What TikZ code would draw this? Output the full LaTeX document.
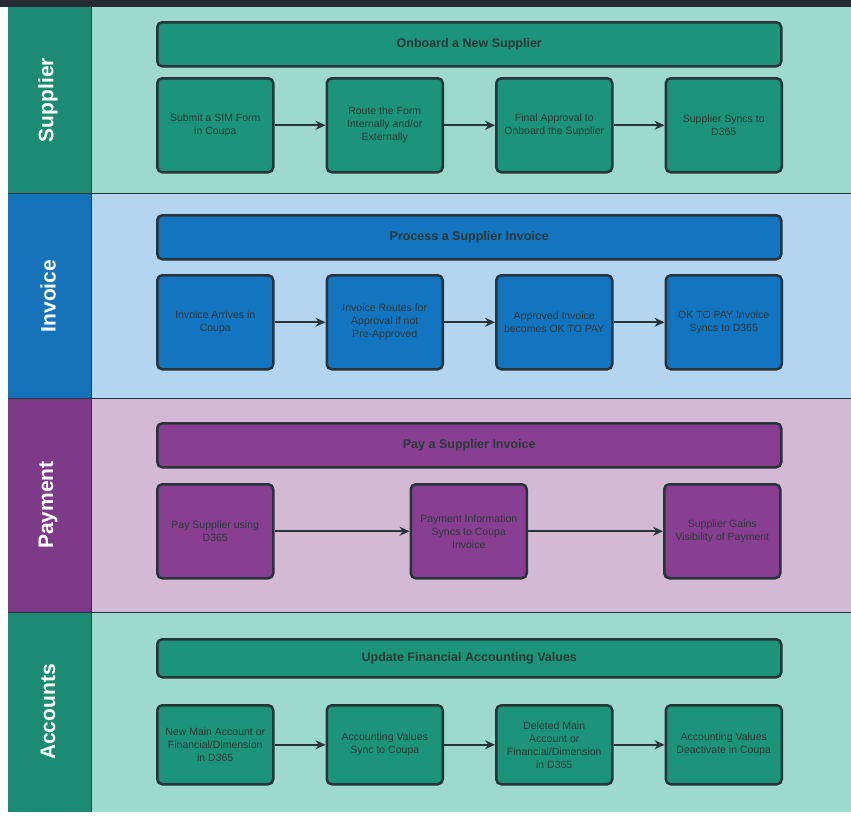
\documentclass[tikz,border=0pt]{standalone}
\usepackage{fontspec}
\setmainfont{Liberation Sans}
\usepackage{xcolor}
\usetikzlibrary{arrows.meta,positioning}

\definecolor{topbar}{HTML}{262B33}
\definecolor{edgegray}{HTML}{27343A}
\definecolor{inktext}{HTML}{2A3838}
\definecolor{tealbg}{HTML}{9ED9CD}
\definecolor{tealdark}{HTML}{1B8C73}
\definecolor{tealbox}{HTML}{1C9479}
\definecolor{bluebg}{HTML}{B3D5EF}
\definecolor{bluedark}{HTML}{1673BA}
\definecolor{bluebox}{HTML}{1375C0}
\definecolor{purplebg}{HTML}{D3B9D3}
\definecolor{purpledark}{HTML}{7D3A88}
\definecolor{purplebox}{HTML}{883F92}

\begin{document}
\begin{tikzpicture}[x=1pt, y=-1pt, node distance=51pt,
    stepbox/.style={rectangle, draw=edgegray, line width=2.5pt, rounded corners=5pt, minimum width=116pt, minimum height=94pt, align=center, text=inktext, inner sep=2pt, font=\fontsize{10.5}{13}\selectfont},
    headbox/.style={rectangle, draw=edgegray, line width=2.5pt, rounded corners=5pt, minimum width=624pt, minimum height=44pt, text=inktext, font=\bfseries\fontsize{12.5}{15}\selectfont},
    lanelabel/.style={rotate=90, text=white, font=\bfseries\fontsize{21}{24}\selectfont},
    arrow/.style={-{Stealth[length=10pt,width=9pt]}, line width=2pt, draw=edgegray}]
    \useasboundingbox (0,0) rectangle (851,815);

    % lanes
    \fill[topbar] (0,0) rectangle (851,7);
    \fill[tealbg] (8,7) rectangle (851,193);
    \fill[bluebg] (8,193) rectangle (851,398);
    \fill[purplebg] (8,398) rectangle (851,612);
    \fill[tealbg] (8,612) rectangle (851,812);
    \fill[tealdark] (8,7) rectangle (91,193);
    \fill[bluedark] (8,193) rectangle (91,398);
    \fill[purpledark] (8,398) rectangle (91,612);
    \fill[tealdark] (8,612) rectangle (91,812);
    \draw[edgegray, line width=1pt] (91,7) -- (91,812);
    \foreach \y in {193,398,612}
        \draw[edgegray, line width=1pt] (8,\y) -- (851,\y);

    \node[lanelabel] (supplier) at (48,100) {Supplier};
    \node[lanelabel] (invoice) at (48,296) {Invoice};
    \node[lanelabel] (payment) at (48,505) {Payment};
    \node[lanelabel] (accounts) at (48,712) {Accounts};

    % Supplier
    \node[headbox, fill=tealbox, anchor=north west] (onboard) at (156,21) {Onboard a New Supplier};
    \node[stepbox, fill=tealbox, anchor=north west] (simform) at (156,77) {Submit a SIM Form\\in Coupa};
    \node[stepbox, fill=tealbox, right=of simform] (route) {Route the Form\\Internally and/or\\Externally};
    \node[stepbox, fill=tealbox, right=of route] (final) {Final Approval to\\Onboard the Supplier};
    \node[stepbox, fill=tealbox, right=of final] (supsync) {Supplier Syncs to\\D365};

    \draw[arrow] (simform) -- (route);
    \draw[arrow] (route) -- (final);
    \draw[arrow] (final) -- (supsync);

    % Invoice
    \node[headbox, fill=bluebox, anchor=north west] (process) at (156,214) {Process a Supplier Invoice};
    \node[stepbox, fill=bluebox, anchor=north west] (arrives) at (156,274) {Invoice Arrives in\\Coupa};
    \node[stepbox, fill=bluebox, right=of arrives] (routes) {Invoice Routes for\\Approval if not\\Pre-Approved};
    \node[stepbox, fill=bluebox, right=of routes] (okpay) {Approved Invoice\\becomes OK TO PAY};
    \node[stepbox, fill=bluebox, right=of okpay] (invsync) {OK TO PAY Invoice\\Syncs to D365};

    \draw[arrow] (arrives) -- (routes);
    \draw[arrow] (routes) -- (okpay);
    \draw[arrow] (okpay) -- (invsync);

    % Payment
    \node[headbox, fill=purplebox, anchor=north west] (pay) at (156,422) {Pay a Supplier Invoice};
    \node[stepbox, fill=purplebox, anchor=north west] (paysup) at (156,483) {Pay Supplier using\\D365};
    \node[stepbox, fill=purplebox, right=135pt of paysup] (payinfo) {Payment Information\\Syncs to Coupa\\Invoice};
    \node[stepbox, fill=purplebox, right=135pt of payinfo] (visible) {Supplier Gains\\Visibility of Payment};

    \draw[arrow] (paysup) -- (payinfo);
    \draw[arrow] (payinfo) -- (visible);

    % Accounts
    \node[headbox, fill=tealbox, minimum height=38pt, anchor=north west] (update) at (156,638) {Update Financial Accounting Values};
    \node[stepbox, fill=tealbox, minimum height=79pt, anchor=north west] (newacct) at (156,704) {New Main Account or\\Financial/Dimension\\in D365};
    \node[stepbox, fill=tealbox, minimum height=79pt, right=of newacct] (valsync) {Accounting Values\\Sync to Coupa};
    \node[stepbox, fill=tealbox, minimum height=79pt, right=of valsync] (deleted) {Deleted Main\\Account or\\Financial/Dimension\\in D365};
    \node[stepbox, fill=tealbox, minimum height=79pt, right=of deleted] (deact) {Accounting Values\\Deactivate in Coupa};

    \draw[arrow] (newacct) -- (valsync);
    \draw[arrow] (valsync) -- (deleted);
    \draw[arrow] (deleted) -- (deact);
\end{tikzpicture}
\end{document}
